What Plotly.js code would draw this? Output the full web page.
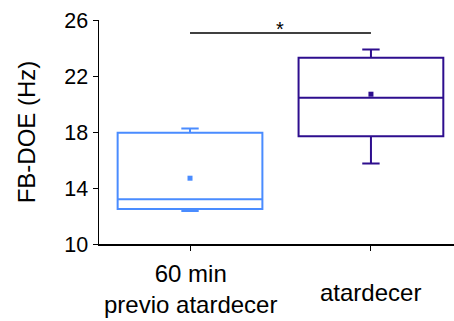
<!DOCTYPE html>
<html>
<head>
<meta charset="utf-8">
<script src="https://cdn.plot.ly/plotly-3.0.1.min.js"></script>
<style>html,body{margin:0;padding:0;background:#fff;}#chart{width:454px;height:321px;}</style>
</head>
<body>
<div id="chart"></div>
<script>
// Data
const categories = ["60 min previo atardecer", "atardecer"];
const tickLabels = ["60 min<br>previo atardecer", "atardecer"];
const q1 = [12.5, 17.7];
const medians = [13.2, 20.45];
const q3 = [17.95, 23.3];
const lowerWhisker = [12.35, 15.75];
const upperWhisker = [18.25, 23.9];
const means = [14.7, 20.7];
const colors = ["#4a8cff", "#2e0e8e"];
const yTicks = [10, 14, 18, 22, 26];
const sigLabel = "*";
const sigY = 25.07;

const traces = categories.map((c, i) => ({
  type: "box",
  x: [c],
  q1: [q1[i]],
  median: [medians[i]],
  q3: [q3[i]],
  lowerfence: [lowerWhisker[i]],
  upperfence: [upperWhisker[i]],
  width: 0.8,
  whiskerwidth: 0.12,
  fillcolor: "rgba(255,255,255,0)",
  line: {color: colors[i], width: 2},
  boxpoints: false,
  hoverinfo: "skip",
  showlegend: false
}));

traces.push({
  type: "scatter",
  mode: "markers",
  x: categories,
  y: means,
  marker: {symbol: "square", size: 5, color: colors},
  hoverinfo: "skip",
  showlegend: false
});

const labelShift = [-14, -33];
const labelAnnotations = categories.map((c, i) => ({
  xref: "x", yref: "paper", x: c, y: 0,
  yanchor: "top", yshift: labelShift[i],
  text: tickLabels[i], showarrow: false,
  font: {size: 24, color: "#000"}
}));

const layout = {
  width: 454, height: 321,
  margin: {l: 99, r: 0, t: 20, b: 77},
  paper_bgcolor: "#fff", plot_bgcolor: "#fff",
  font: {family: "Liberation Sans, Arial, sans-serif", color: "#000"},
  showlegend: false,
  xaxis: {
    type: "category",
    categoryorder: "array",
    categoryarray: categories,
    range: [-0.503, 1.459],
    showline: true, linecolor: "#000", linewidth: 1.5,
    ticks: "outside", ticklen: 5, tickcolor: "#000", tickwidth: 1,
    showgrid: false, zeroline: false,
    showticklabels: false,
    fixedrange: true
  },
  yaxis: {
    range: [10, 26],
    tickvals: yTicks,
    ticktext: yTicks.map(String),
    showline: true, linecolor: "#000", linewidth: 1.5,
    ticks: "outside", ticklen: 5, tickcolor: "#000", tickwidth: 1,
    showgrid: false, zeroline: false,
    tickfont: {size: 21.5, color: "#000"},
    title: {text: "FB-DOE (Hz)", font: {size: 24, color: "#000"}, standoff: 22},
    fixedrange: true
  },
  shapes: [{
    type: "line", xref: "x", yref: "y",
    x0: categories[0], x1: categories[1], y0: sigY, y1: sigY,
    line: {color: "#000", width: 1.5}
  }],
  annotations: [{
    xref: "x", yref: "y", x: 0.5, y: sigY,
    text: sigLabel, showarrow: false, yanchor: "bottom", yshift: -9,
    font: {size: 20, color: "#000"}
  }].concat(labelAnnotations)
};

Plotly.newPlot("chart", traces, layout, {displayModeBar: false, staticPlot: true});
</script>
</body>
</html>
